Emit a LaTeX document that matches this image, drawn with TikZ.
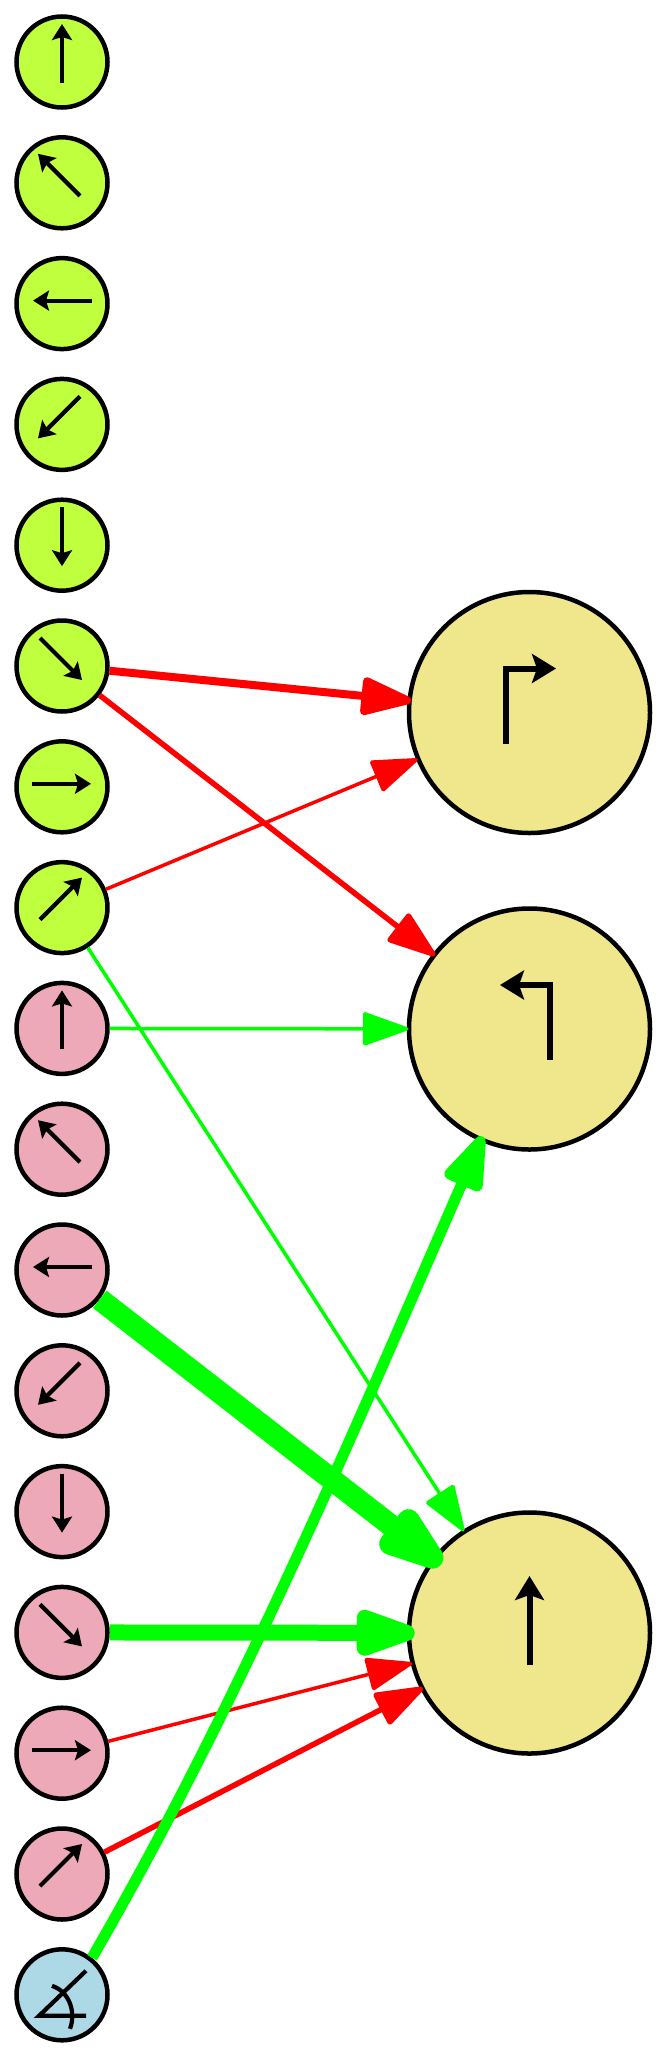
\documentclass[tikz,border=0pt]{standalone}
\usetikzlibrary{arrows.meta}
\definecolor{limec}{RGB}{192,255,62}
\definecolor{pinkc}{RGB}{238,169,184}
\definecolor{bluec}{RGB}{173,216,230}
\definecolor{khakic}{RGB}{240,230,140}
\pgfdeclarearrow{
  name=RoundHead,
  defaults={length=42pt,width=30pt,inset=3pt},
  setup code={
    \pgfarrowssettipend{0pt}
    \pgfarrowssetbackend{-\pgfarrowlength}
    \pgfarrowssetlineend{-0.9\pgfarrowlength}
    \pgfarrowssavethe\pgfarrowlength
    \pgfarrowssavethe\pgfarrowwidth
    \pgfarrowssavethe\pgfarrowinset
  },
  drawing code={
    \pgfpathmoveto{\pgfqpoint{0.168\pgfarrowinset}{0.471\pgfarrowinset}}
    \pgfpathlineto{\pgfqpoint{\dimexpr-\pgfarrowlength+0.168\pgfarrowinset\relax}{\dimexpr0.5\pgfarrowwidth+0.471\pgfarrowinset\relax}}
    \pgfpathlineto{\pgfqpoint{\dimexpr-\pgfarrowlength-0.5\pgfarrowinset\relax}{0.5\pgfarrowwidth}}
    \pgfpathlineto{\pgfqpoint{\dimexpr-\pgfarrowlength-0.5\pgfarrowinset\relax}{-0.5\pgfarrowwidth}}
    \pgfpathlineto{\pgfqpoint{\dimexpr-\pgfarrowlength+0.168\pgfarrowinset\relax}{\dimexpr-0.5\pgfarrowwidth-0.471\pgfarrowinset\relax}}
    \pgfpathlineto{\pgfqpoint{0.168\pgfarrowinset}{-0.471\pgfarrowinset}}
    \pgfpathclose
    \pgfpathcircle{\pgfqpoint{0pt}{0pt}}{0.5\pgfarrowinset}
    \pgfpathcircle{\pgfqpoint{-\pgfarrowlength}{0.5\pgfarrowwidth}}{0.5\pgfarrowinset}
    \pgfpathcircle{\pgfqpoint{-\pgfarrowlength}{-0.5\pgfarrowwidth}}{0.5\pgfarrowinset}
    \pgfusepathqfill
  },
  parameters={\the\pgfarrowlength,\the\pgfarrowwidth,\the\pgfarrowinset}
}
\tikzset{
  smallnode/.style={circle,draw=black,line width=4.5pt,inner sep=0pt,minimum size=91pt},
  bignode/.style={circle,draw=black,line width=4.5pt,inner sep=0pt,fill=khakic,minimum size=241pt},
  glyph/.style={line width=4.2pt,draw=black,-{Stealth[length=16pt,width=20pt,inset=3pt]}},
  bigglyph/.style={line width=6pt,draw=black,-{Stealth[length=24pt,width=29pt,inset=5pt]}},
  anglemark/.style={line width=4.2pt,draw=black},
  edgearrow/.style={line width=#1,-{RoundHead[inset=#1]}},
  rededge/.style={edgearrow=#1,color=red},
  greenedge/.style={edgearrow=#1,color=green},
}
\begin{document}
\begin{tikzpicture}[x=1pt,y=-1pt]
\useasboundingbox (0,0) rectangle (667,2058);
\foreach \i/\c in {1/limec,2/limec,3/limec,4/limec,5/limec,6/limec,7/limec,8/limec,
  9/pinkc,10/pinkc,11/pinkc,12/pinkc,13/pinkc,14/pinkc,15/pinkc,16/pinkc,17/bluec}{
  \pgfmathsetmacro\yy{62+120.8*(\i-1)}
  \node[smallnode,fill=\c] (n\i) at (62,\yy) {};
}
\node[bignode] (b1) at (529.5,712.5) {};
\node[bignode] (b2) at (529.5,1029) {};
\node[bignode] (b3) at (529.5,1633) {};
% small arrows
\foreach \i/\a/\b/\c/\d in {
  1/0/21/0/-38, 2/18/13/-24/-29, 3/30/-3/-29/-3, 4/18/-28/-24/14,
  5/0/-38/0/21, 6/-22/-28/20/14, 7/-30/-3/29/-3, 8/-22/12/20/-30,
  9/0/21/0/-38, 10/18/13/-24/-29, 11/30/-3/-29/-3, 12/18/-28/-24/14,
  13/0/-38/0/21, 14/-22/-28/20/14, 15/-30/-3/29/-3, 16/-22/12/20/-30}{
  \draw[glyph] ([shift={(\a,\b)}]n\i.center) -- ([shift={(\c,\d)}]n\i.center);
}
% big arrows
\draw[bigglyph] ([shift={(-23.5,31.5)}]b1.center) -- ([shift={(-23.5,-44)}]b1.center) -- ([shift={(26.5,-44)}]b1.center);
\draw[bigglyph] ([shift={(20.5,31)}]b2.center) -- ([shift={(20.5,-44)}]b2.center) -- ([shift={(-29.5,-44)}]b2.center);
\draw[bigglyph] ([shift={(0,32)}]b3.center) -- ([shift={(0,-57)}]b3.center);
% angle glyph
\draw[anglemark,line join=miter] ([shift={(24,-24)}]n17.center) -- ([shift={(-23,21)}]n17.center) -- ([shift={(24,21)}]n17.center);
\draw[anglemark] ([shift={(-10,-9)}]n17.center) .. controls ([shift={(8,-3)}]n17.center) and ([shift={(14,18)}]n17.center) .. ([shift={(8,34)}]n17.center);
% edges
\draw[rededge=8pt] (n6) -- (b1);
\draw[rededge=3.5pt] (n8) -- (b1);
\draw[rededge=5.5pt] (n6) -- (b2);
\draw[greenedge=3.5pt] (n9) -- (b2);
\draw[greenedge=3.5pt] (n8) -- (b3);
\draw[greenedge=22pt] (n11) -- (b3);
\draw[greenedge=16pt] (n14) -- (b3);
\draw[rededge=3.5pt] (n15) -- (b3);
\draw[rededge=5.5pt] (n16) -- (b3);
\coordinate (c1) at (243,1697);
\coordinate (c2) at (362,1412);
\draw[greenedge=11pt] (n17.51) .. controls (c1) and (c2) .. (b2);
\end{tikzpicture}
\end{document}
